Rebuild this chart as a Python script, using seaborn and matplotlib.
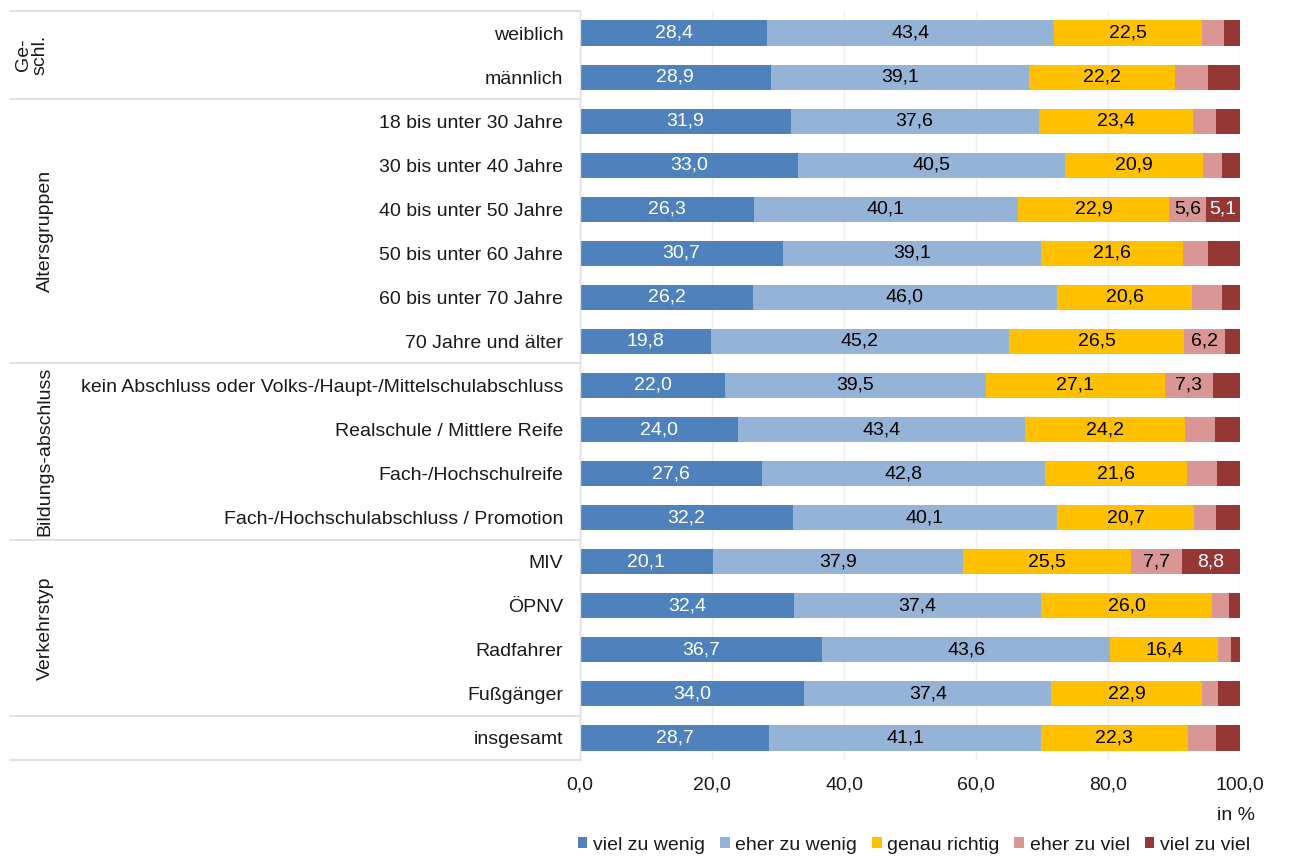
import numpy as np
import pandas as pd
import matplotlib
matplotlib.use("Agg")
import matplotlib.pyplot as plt
import matplotlib.transforms as mtransforms
from matplotlib.patches import Patch
import seaborn as sns

# data (in %)
categories = ["weiblich", "männlich",
              "18 bis unter 30 Jahre", "30 bis unter 40 Jahre", "40 bis unter 50 Jahre",
              "50 bis unter 60 Jahre", "60 bis unter 70 Jahre", "70 Jahre und älter",
              "kein Abschluss oder Volks-/Haupt-/Mittelschulabschluss",
              "Realschule / Mittlere Reife", "Fach-/Hochschulreife",
              "Fach-/Hochschulabschluss / Promotion",
              "MIV", "ÖPNV", "Radfahrer", "Fußgänger", "insgesamt"]
series = ["viel zu wenig", "eher zu wenig", "genau richtig", "eher zu viel", "viel zu viel"]
viel_zu_wenig = [28.4, 28.9, 31.9, 33.0, 26.3, 30.7, 26.2, 19.8, 22.0, 24.0, 27.6, 32.2, 20.1, 32.4, 36.7, 34.0, 28.7]
eher_zu_wenig = [43.4, 39.1, 37.6, 40.5, 40.1, 39.1, 46.0, 45.2, 39.5, 43.4, 42.8, 40.1, 37.9, 37.4, 43.6, 37.4, 41.1]
genau_richtig = [22.5, 22.2, 23.4, 20.9, 22.9, 21.6, 20.6, 26.5, 27.1, 24.2, 21.6, 20.7, 25.5, 26.0, 16.4, 22.9, 22.3]
eher_zu_viel = [3.2, 4.9, 3.4, 2.8, 5.6, 3.8, 4.4, 6.2, 7.3, 4.6, 4.5, 3.3, 7.7, 2.5, 1.9, 2.3, 4.2]
viel_zu_viel = [2.5, 4.9, 3.7, 2.8, 5.1, 4.8, 2.8, 2.3, 4.2, 3.8, 3.5, 3.7, 8.8, 1.7, 1.4, 3.4, 3.7]
groups = [("Ge-\nschl.", 0, 1), ("Altersgruppen", 2, 7), ("Bildungs-abschluss", 8, 11),
          ("Verkehrstyp", 12, 15), ("", 16, 16)]

colors = ["#4F81BD", "#95B3D7", "#FFC000", "#D99694", "#953735"]
text_colors = ["white", "black", "black", "black", "white"]
fs = 14

sns.set_style("white")
plt.rcParams["font.family"] = ["Liberation Sans", "DejaVu Sans"]
plt.rcParams["text.color"] = "#1a1a1a"
plt.rcParams["xtick.color"] = "#1a1a1a"
plt.rcParams["ytick.color"] = "#1a1a1a"

df = pd.DataFrame({"cat": categories, "viel zu wenig": viel_zu_wenig,
                   "eher zu wenig": eher_zu_wenig, "genau richtig": genau_richtig,
                   "eher zu viel": eher_zu_viel, "viel zu viel": viel_zu_viel})
cum = df[series].cumsum(axis=1)

fig = plt.figure(figsize=(12.9, 8.56), dpi=100)
ax = fig.add_axes([580 / 1290, 96 / 856, 660 / 1290, 749 / 856])

# stacked bars: draw cumulative totals from the back to the front
for i in range(len(series) - 1, -1, -1):
    sns.barplot(x=cum[series[i]], y=df["cat"], order=categories, orient="h",
                color=colors[i], width=0.57, saturation=1, linewidth=0,
                ax=ax, zorder=2)

# value labels
for i, s in enumerate(series):
    for j, v in enumerate(df[s]):
        if i >= 3 and v < 5:
            continue
        xc = cum[s][j] - v / 2
        ax.text(xc, j, f"{v:.1f}".replace(".", ","), ha="center", va="center",
                fontsize=fs, color=text_colors[i], zorder=3)

ax.set_xlim(0, 100)
ax.set_ylim(16.5, -0.5)
ax.set_xticks(np.arange(0, 101, 20))
ax.set_xticklabels([f"{t:.1f}".replace(".", ",") for t in np.arange(0, 101, 20)], fontsize=fs)
ax.tick_params(axis="y", length=0, pad=12, labelsize=fs)
ax.tick_params(axis="x", length=0, pad=12)
ax.set_xlabel("")
ax.set_ylabel("")
ax.grid(axis="x", color="#eeeeee", linewidth=1, zorder=0)
ax.set_axisbelow(True)
for side in ["top", "right", "bottom"]:
    ax.spines[side].set_visible(False)
ax.spines["left"].set_color("#dddddd")
ax.spines["left"].set_linewidth(1)

# group table on the left
trans = mtransforms.blended_transform_factory(fig.transFigure, ax.transData)
x0 = 10 / 1290
bounds = [-0.5, 1.5, 7.5, 11.5, 15.5, 16.5]
for b in bounds:
    ax.plot([x0, 580 / 1290], [b, b], color="#dcdcdc", linewidth=1.2,
            transform=trans, clip_on=False)
for name, a, b in groups:
    if not name:
        continue
    xg = 32 / 1290 if "\n" in name else 45 / 1290
    ax.text(xg, (a + b) / 2, name, rotation=90, ha="center", va="center",
            fontsize=fs, linespacing=0.95, transform=trans)

fig.text(1255 / 1290, 1 - 815 / 856, "in %", ha="right", va="center", fontsize=fs)

handles = [Patch(facecolor=c, edgecolor="none") for c in colors]
fig.legend(handles, series, loc="center", bbox_to_anchor=(914 / 1290, 1 - 845 / 856),
           ncol=5, frameon=False, fontsize=fs, handlelength=0.5, handleheight=0.5,
           handletextpad=0.3, columnspacing=0.75)

fig.savefig("out.png", dpi=100)
